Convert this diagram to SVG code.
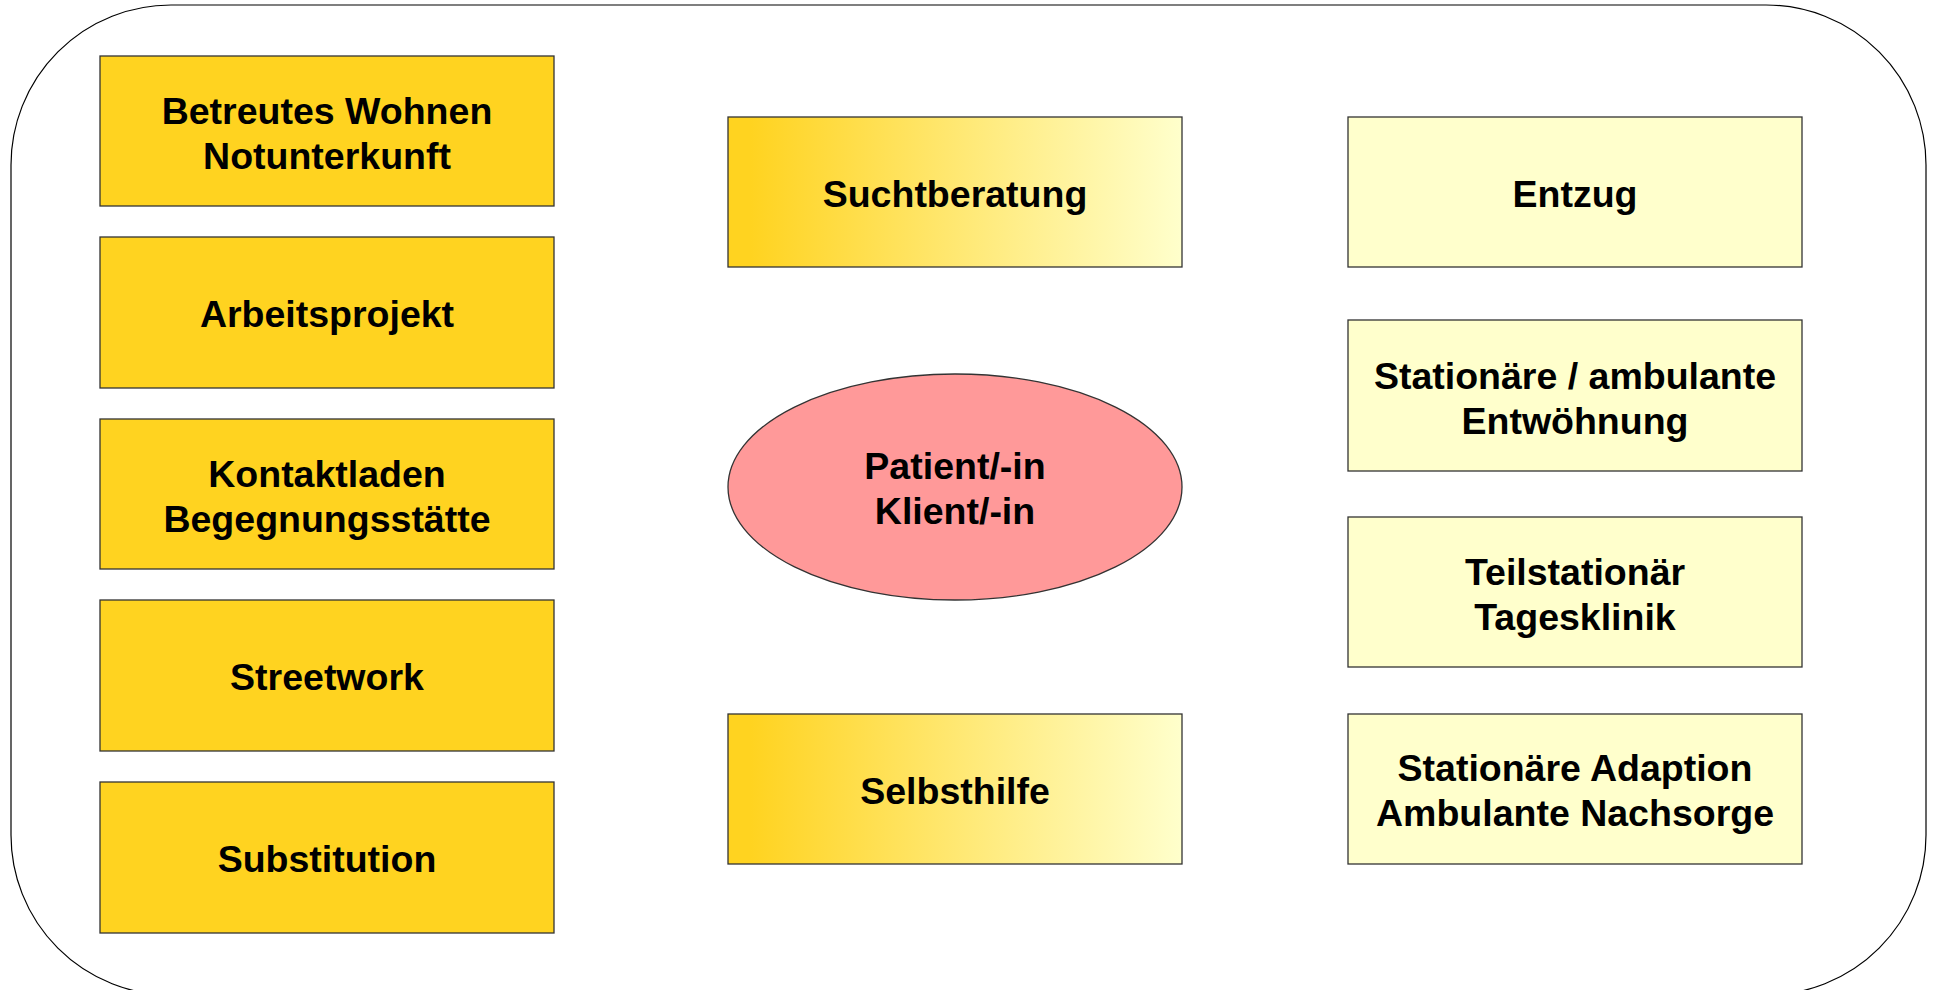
<svg xmlns="http://www.w3.org/2000/svg" width="1937" height="990" viewBox="0 0 1937 990">
<defs>
<linearGradient id="grad" x1="0" y1="0" x2="1" y2="0">
<stop offset="0.05" stop-color="#FFD320"/>
<stop offset="1" stop-color="#FFFFCC"/>
</linearGradient>
</defs>
<style>
.frame{fill:#fff;stroke:#000;stroke-width:1.2}
.box{stroke:#333;stroke-width:1.3}
.gold{fill:#FFD320}
.pale{fill:#FFFFCC}
.grad{fill:url(#grad)}
.ell{fill:#FF9999;stroke:#333;stroke-width:1.3}
text{font-family:"Liberation Sans",Arial,sans-serif;font-weight:bold;font-size:37.5px;fill:#000;text-anchor:middle}
</style>
<rect width="1937" height="990" fill="#fff"/>
<rect class="frame" x="11" y="5" width="1915" height="990" rx="160" ry="160"/>
<g id="connectors"></g>
<g id="betreutes"><rect class="box gold" x="100" y="56" width="454" height="150"/><text x="327" y="124">Betreutes Wohnen</text><text x="327" y="169">Notunterkunft</text></g>
<g id="arbeitsprojekt"><rect class="box gold" x="100" y="237" width="454" height="151"/><text x="327" y="327">Arbeitsprojekt</text></g>
<g id="kontaktladen"><rect class="box gold" x="100" y="419" width="454" height="150"/><text x="327" y="487">Kontaktladen</text><text x="327" y="532">Begegnungsstätte</text></g>
<g id="streetwork"><rect class="box gold" x="100" y="600" width="454" height="151"/><text x="327" y="690">Streetwork</text></g>
<g id="substitution"><rect class="box gold" x="100" y="782" width="454" height="151"/><text x="327" y="872">Substitution</text></g>
<g id="suchtberatung"><rect class="box grad" x="728" y="117" width="454" height="150"/><text x="955" y="207">Suchtberatung</text></g>
<g id="patient"><ellipse class="ell" cx="955" cy="487" rx="227" ry="113"/><text x="955" y="479">Patient/-in</text><text x="955" y="524">Klient/-in</text></g>
<g id="selbsthilfe"><rect class="box grad" x="728" y="714" width="454" height="150"/><text x="955" y="804">Selbsthilfe</text></g>
<g id="entzug"><rect class="box pale" x="1348" y="117" width="454" height="150"/><text x="1575" y="207">Entzug</text></g>
<g id="entwoehnung"><rect class="box pale" x="1348" y="320" width="454" height="151"/><text x="1575" y="389">Stationäre / ambulante</text><text x="1575" y="434">Entwöhnung</text></g>
<g id="teilstationaer"><rect class="box pale" x="1348" y="517" width="454" height="150"/><text x="1575" y="585">Teilstationär</text><text x="1575" y="630">Tagesklinik</text></g>
<g id="adaption"><rect class="box pale" x="1348" y="714" width="454" height="150"/><text x="1575" y="781">Stationäre Adaption</text><text x="1575" y="826">Ambulante Nachsorge</text></g>
</svg>
